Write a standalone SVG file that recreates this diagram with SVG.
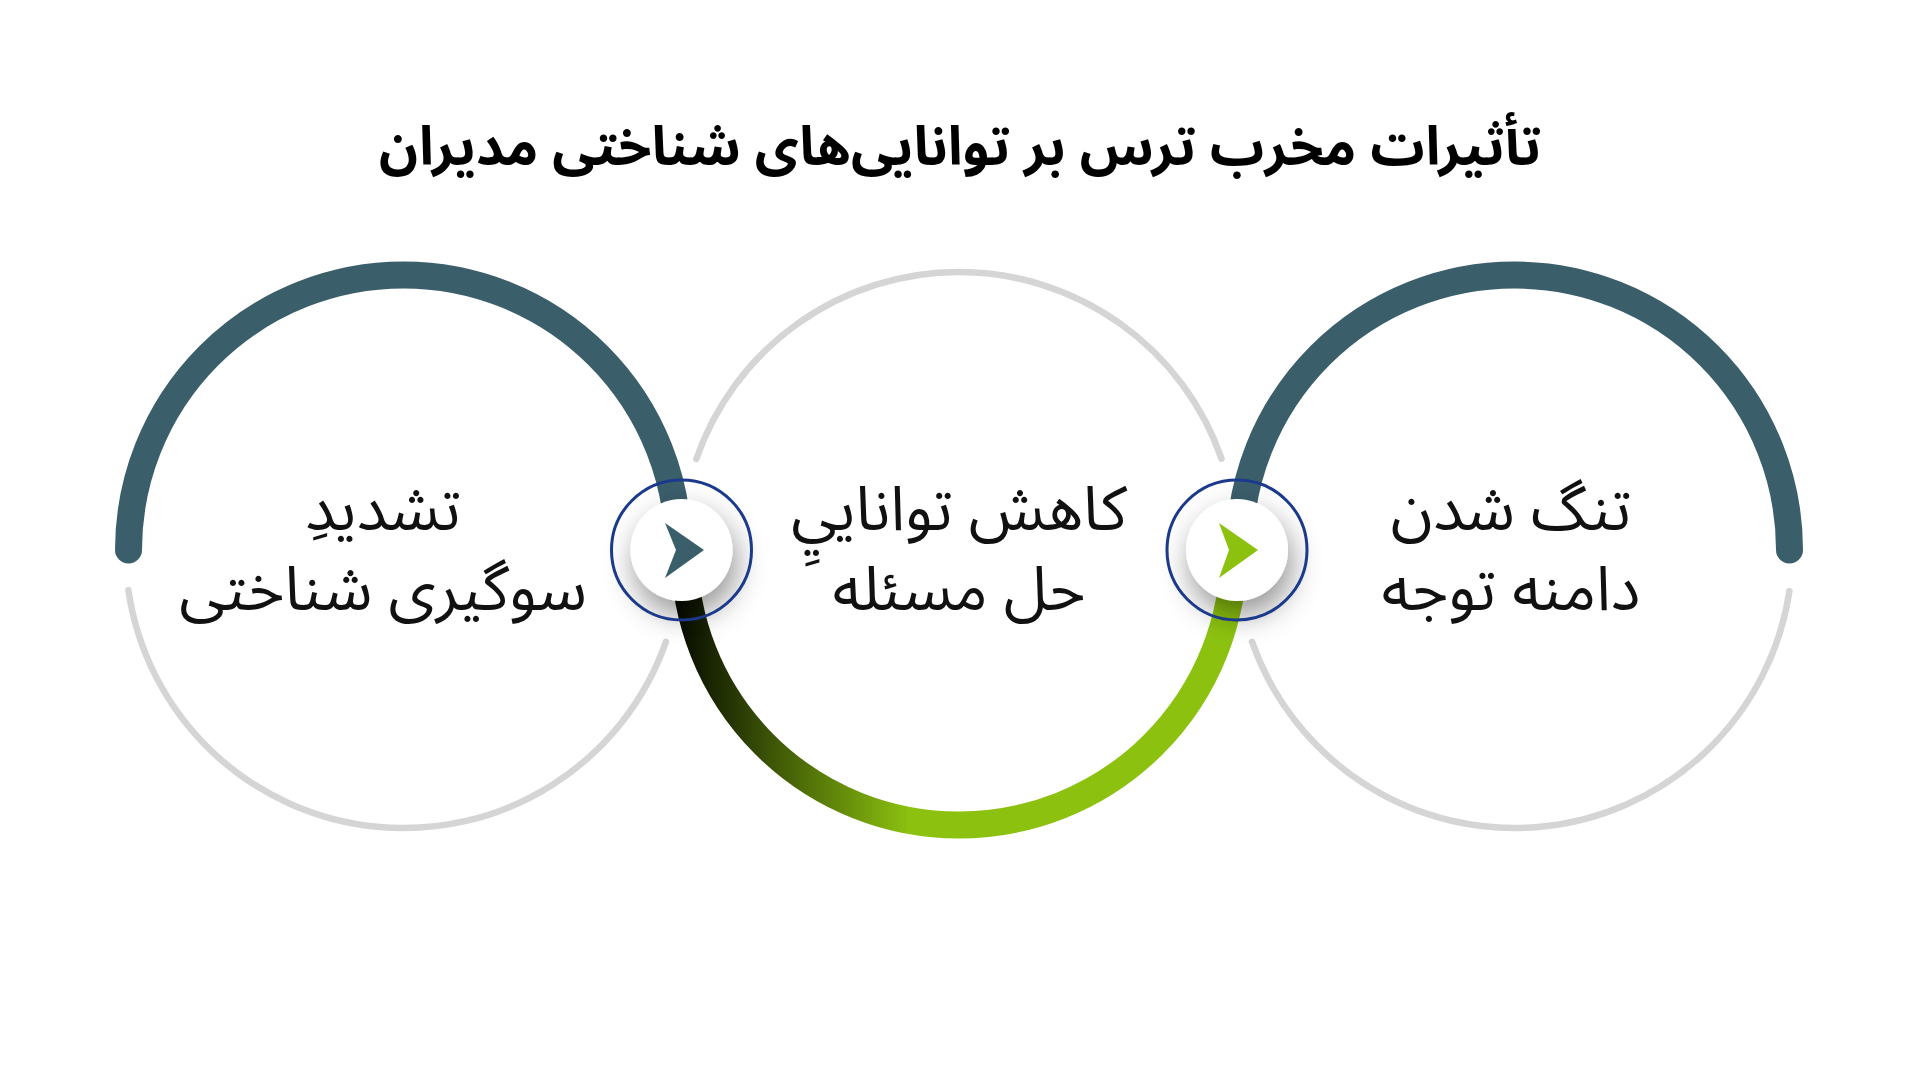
<svg xmlns="http://www.w3.org/2000/svg" width="1920" height="1080" viewBox="0 0 1920 1080">
  <defs>
    <style>
      .title { font-family: "Noto Sans Arabic", "Vazirmatn", "DejaVu Sans", "Noto Sans", sans-serif; font-weight: 700; font-size: 54px; fill: #000; }
      .label { font-family: "Noto Sans Arabic", "Vazirmatn", "DejaVu Sans", "Noto Sans", sans-serif; font-weight: 400; font-size: 62px; fill: #111; }
      .thick { fill: none; stroke-width: 27; stroke-linecap: round; }
      .gray { fill: none; stroke: #d5d5d5; stroke-width: 6.5; stroke-linecap: round; }
      .ring { fill: none; stroke: #1c3a8c; stroke-width: 3; }
    </style>
    <linearGradient id="greenGrad" gradientUnits="userSpaceOnUse" x1="678" y1="0" x2="910" y2="0">
      <stop offset="0" stop-color="#070b00"/>
      <stop offset="1" stop-color="#8cc20f"/>
    </linearGradient>
    <filter id="shadow" x="-80%" y="-80%" width="260%" height="260%">
      <feDropShadow dx="4" dy="14" stdDeviation="15" flood-color="#000" flood-opacity="0.42"/>
    </filter>
  </defs>
  <rect width="1920" height="1080" fill="#fff"/>

  <text class="title" x="960" y="165" text-anchor="middle" direction="rtl">تأثیرات مخرب ترس بر توانایی‌های شناختی مدیران</text>

  <g id="connectors">
    <path class="gray" d="M 665.9 641.9 A 278 278 0 0 1 128.4 590.1"/>
    <path class="gray" d="M 696.3 459 A 278 278 0 0 1 1221.5 458.6"/>
    <path class="gray" d="M 1789.4 591.1 A 278 278 0 0 1 1252.1 641.9"/>
    <path class="thick" stroke="#3b5e6b" d="M 128.5 550 A 275 275 0 0 1 678.5 550"/>
    <path class="thick" stroke="url(#greenGrad)" stroke-linecap="butt" d="M 684 550 A 275 275 0 0 0 1234 550"/>
    <path class="thick" stroke="#3b5e6b" d="M 1239.5 550 A 275 275 0 0 1 1789.5 550"/>
  </g>

  <g id="node-1">
    <text class="label" x="383" y="530" text-anchor="middle" direction="rtl">تشدیدِ</text>
    <text class="label" x="383" y="610" text-anchor="middle" direction="rtl">سوگیری شناختی</text>
  </g>
  <g id="node-2">
    <text class="label" x="959" y="530" text-anchor="middle" direction="rtl">کاهش توانایيِ</text>
    <text class="label" x="959" y="610" text-anchor="middle" direction="rtl">حل مسئله</text>
  </g>
  <g id="node-3">
    <text class="label" x="1511" y="530" text-anchor="middle" direction="rtl">تنگ شدن</text>
    <text class="label" x="1511" y="610" text-anchor="middle" direction="rtl">دامنه توجه</text>
  </g>

  <g id="arrow-1">
    <circle cx="681.5" cy="550" r="51" fill="#fff" filter="url(#shadow)"/>
    <circle class="ring" cx="681.5" cy="550" r="70"/>
    <polygon points="665,523 704,550 665,578 676,550" fill="#3b5e6b"/>
  </g>
  <g id="arrow-2">
    <circle cx="1237" cy="550" r="51" fill="#fff" filter="url(#shadow)"/>
    <circle class="ring" cx="1237" cy="550" r="70"/>
    <polygon points="1219,523 1258,550 1219,578 1229,550" fill="#8cc20f"/>
  </g>
</svg>
